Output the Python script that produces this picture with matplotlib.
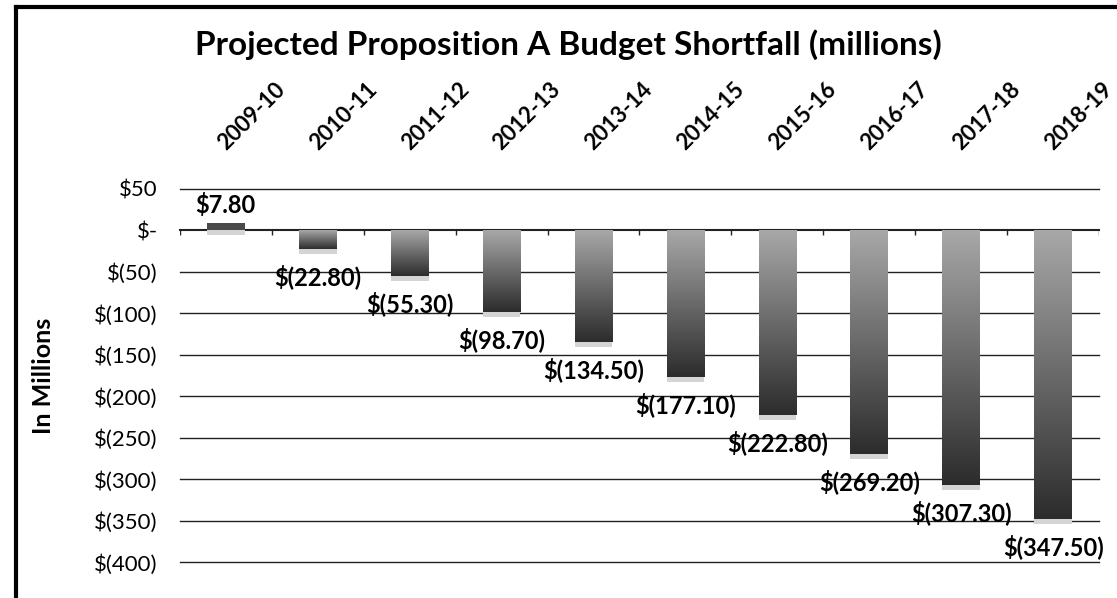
import matplotlib.pyplot as plt
import numpy as np
from matplotlib.colors import LinearSegmentedColormap

plt.rcParams['font.family'] = ['Lato', 'DejaVu Sans']

years = ['2009-10', '2010-11', '2011-12', '2012-13', '2013-14',
         '2014-15', '2015-16', '2016-17', '2017-18', '2018-19']
shortfall = [7.8, -22.8, -55.3, -98.7, -134.5, -177.1, -222.8, -269.2, -307.3, -347.5]
yticks = [50, 0, -50, -100, -150, -200, -250, -300, -350, -400]


def money(v):
    if v == 0:
        return '$-'
    if v < 0:
        return '$(%g)' % -v
    return '$%g' % v


def money2(v):
    if v < 0:
        return '$(%.2f)' % -v
    return '$%.2f' % v


fig = plt.figure(figsize=(11.17, 5.98), dpi=100)
ax = fig.add_axes([0.161, 0.060, 0.823, 0.624])

# light grey at the zero line going to near black at the bar end
cmap = LinearSegmentedColormap.from_list('bar', ['#a8a8a8', '#2c2c2c'])
grad = np.linspace(0, 1, 256).reshape(-1, 1)
w = 0.41
x = np.arange(len(years))
for i, v in enumerate(shortfall):
    if v < 0:
        img = grad
        ext = (i - w / 2, i + w / 2, v, 0)
        shadow_top = v
    else:
        img = grad * 0 + 0.75
        ext = (i - w / 2, i + w / 2, 0, v)
        shadow_top = 0
    ax.imshow(img, cmap=cmap, vmin=0, vmax=1, extent=ext, aspect='auto', zorder=3)
    # faint shadow under each bar
    ax.bar(i, -6, bottom=shadow_top, width=w, color='#d4d4d4', zorder=2)
    if v < 0:
        ax.annotate(money2(v), (i, v), xytext=(0, -11), textcoords='offset points',
                    ha='center', va='top', fontsize=17, fontweight='bold', zorder=5)
    else:
        ax.annotate(money2(v), (i, v), xytext=(0, 5), textcoords='offset points',
                    ha='center', va='bottom', fontsize=17, fontweight='bold', zorder=5)

for t in yticks:
    ax.axhline(t, color='#222222', lw=1.0 if t else 1.5, zorder=1, clip_on=False)
ax.vlines(np.arange(len(years) + 1) - 0.5, -5, 0, color='#222222', lw=1, zorder=2)

ax.set_xlim(-0.5, len(years) - 0.5)
ax.set_ylim(-400, 50)
ax.set_yticks(yticks)
ax.set_yticklabels([money(t) for t in yticks], fontsize=16)
ax.tick_params(axis='y', length=0, pad=16)

ax.xaxis.tick_top()
ax.set_xticks(x)
ax.set_xticklabels(years, rotation=45, ha='left', va='baseline', rotation_mode='anchor',
                   fontsize=16, fontweight='bold')
ax.tick_params(axis='x', length=0, pad=27)
for s in ax.spines.values():
    s.set_visible(False)

ax.set_ylabel('In Millions', fontsize=18, fontweight='bold')
ax.yaxis.set_label_coords(-0.136, 0.5)
fig.text(0.509, 0.925, 'Projected Proposition A Budget Shortfall (millions)',
         ha='center', va='center', fontsize=24, fontweight='bold')

# outer frame of the scanned chart
fig.add_artist(plt.Line2D([0.0145, 0.0145], [0, 0.988], color='black', lw=3))
fig.add_artist(plt.Line2D([0.0145, 1.0], [0.988, 0.988], color='black', lw=3))

fig.savefig('out.png', dpi=100)
